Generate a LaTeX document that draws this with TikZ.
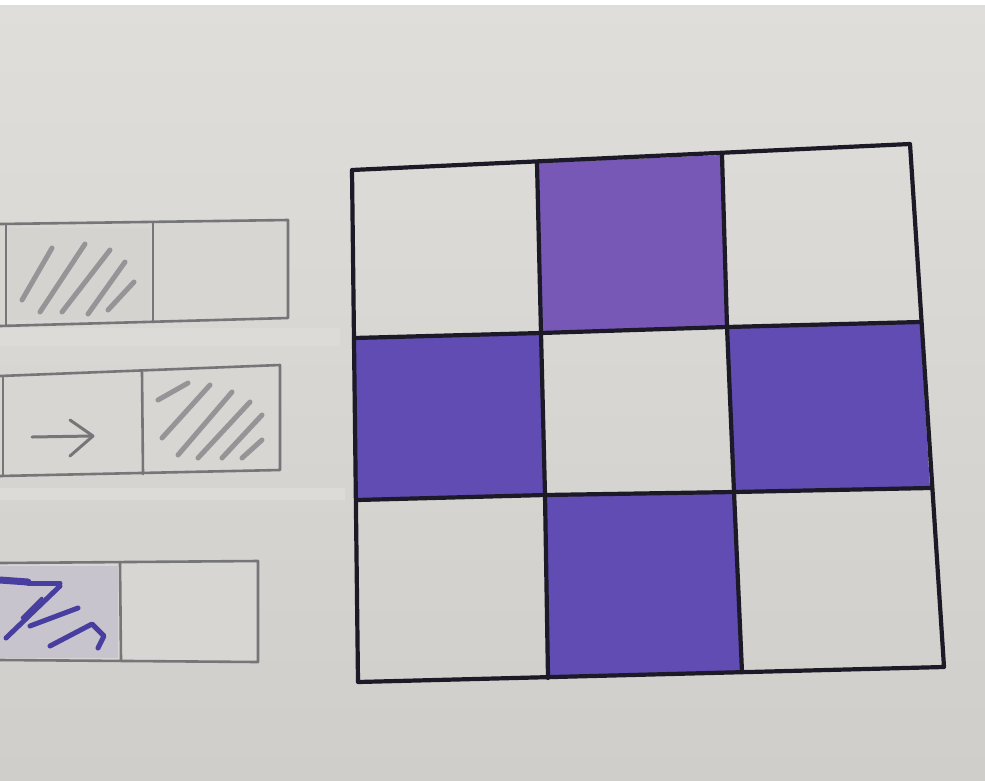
\documentclass[tikz,border=0pt]{standalone}
\begin{document}
\begin{tikzpicture}[x=1pt,y=-1pt,
  gridline/.style={draw=gridink,line width=4.2pt,line join=round,line cap=round},
  pencil/.style={draw=pencilink,line width=2.6pt,line join=round,line cap=round},
  hatch/.style={draw=hatchink,line width=5pt,line cap=round},
  bluehatch/.style={draw=blueink,line width=5pt,line cap=round,line join=round},
  cellfill/.style={fill=violetfill}]
\definecolor{paper}{RGB}{216,214,211}
\definecolor{paperlight}{RGB}{224,222,219}
\definecolor{paperdark}{RGB}{208,206,203}
\definecolor{gridink}{RGB}{28,26,38}
\definecolor{pencilink}{RGB}{118,118,120}
\definecolor{hatchink}{RGB}{150,148,150}
\definecolor{blueink}{RGB}{72,62,160}
\definecolor{violetfill}{RGB}{96,76,178}
\definecolor{violettop}{RGB}{120,88,182}
\useasboundingbox (0,0) rectangle (985,780);
% paper
\shade[top color=paperlight,bottom color=paperdark] (0,0) rectangle (985,780);
\fill[white] (0,0) rectangle (985,5);
% faint paper strips
\fill[paperlight!60!paper] (0,328) rectangle (340,346);
\fill[paperlight!60!paper] (0,488) rectangle (345,500);

% ---- left strips ----
% strip 1
\coordinate (a1) at (0,224); \coordinate (a2) at (288,220);
\coordinate (a3) at (288,318); \coordinate (a4) at (0,326);
\fill[paper] (a1) -- (a2) -- (a3) -- (a4) -- cycle;
\fill[paperdark!90!white] (8,228) rectangle (150,320);
\draw[hatch] (22,300) -- (52,248);
\draw[hatch] (40,312) -- (85,244);
\draw[hatch] (62,312) -- (110,250);
\draw[hatch] (88,314) -- (125,262);
\draw[hatch] (108,310) -- (134,282);
\draw[pencil] (a1) -- (a2) -- (a3) -- (a4);
\draw[pencil] (6,224) -- (6,325);
\draw[pencil] (153,222) -- (153,322);

% strip 2
\coordinate (b1) at (0,376); \coordinate (b2) at (280,365);
\coordinate (b3) at (280,470); \coordinate (b4) at (0,476);
\fill[paper] (b1) -- (b2) -- (b3) -- (b4) -- cycle;
\draw[hatch] (158,400) -- (188,383);
\draw[hatch] (162,438) -- (210,385);
\draw[hatch] (178,455) -- (232,392);
\draw[hatch] (198,458) -- (250,402);
\draw[hatch] (222,458) -- (262,415);
\draw[hatch] (242,458) -- (262,440);
\draw[pencil] (b1) -- (b2) -- (b3) -- (b4);
\draw[pencil] (3,376) -- (3,476);
\draw[pencil] (142,372) -- (143,474);
\draw[pencil,line width=3pt] (32,437) -- (92,436);
\draw[pencil,line width=3pt] (70,420) -- (93,436) -- (70,456);

% strip 3
\coordinate (c1) at (0,563); \coordinate (c2) at (258,561);
\coordinate (c3) at (258,662); \coordinate (c4) at (0,660);
\fill[paper] (c1) -- (c2) -- (c3) -- (c4) -- cycle;
\fill[blueink!12!paper] (0,566) rectangle (118,658);
\draw[bluehatch,line width=7pt] (0,580) -- (28,582);
\draw[bluehatch] (28,583) -- (60,583);
\draw[bluehatch] (6,638) -- (60,586);
\draw[bluehatch] (30,626) -- (78,608);
\draw[bluehatch] (50,646) -- (92,624) -- (104,636) -- (98,648);
\draw[bluehatch,line width=3pt] (22,618) -- (42,598);
\draw[pencil] (c1) -- (c2) -- (c3) -- (c4);
\draw[pencil] (120,562) -- (121,660);

% ---- 3x3 grid ----
\coordinate (p00) at (352,170); \coordinate (p10) at (537,163);
\coordinate (p20) at (722,155); \coordinate (p30) at (910,144);
\coordinate (p01) at (354,338); \coordinate (p11) at (541,333);
\coordinate (p21) at (727,327); \coordinate (p31) at (920,322);
\coordinate (p02) at (357,500); \coordinate (p12) at (545,495);
\coordinate (p22) at (734,492); \coordinate (p32) at (930,488);
\coordinate (p03) at (358,682); \coordinate (p13) at (548,678);
\coordinate (p23) at (742,672); \coordinate (p33) at (944,667);
% filled cells
\fill[violettop] (p10) -- (p20) -- (p21) -- (p11) -- cycle;
\fill[violetfill] (p01) -- (p11) -- (p12) -- (p02) -- cycle;
\fill[violetfill] (p21) -- (p31) -- (p32) -- (p22) -- cycle;
\fill[violetfill] (p12) -- (p22) -- (p23) -- (p13) -- cycle;
% lines
\draw[gridline] (p00) -- (p30) -- (p33) -- (p03) -- cycle;
\draw[gridline] (p10) -- (p11) -- (p12) -- (p13);
\draw[gridline] (p20) -- (p21) -- (p22) -- (p23);
\draw[gridline] (p01) -- (p11) -- (p21) -- (p31);
\draw[gridline] (p02) -- (p12) -- (p22) -- (p32);
\end{tikzpicture}
\end{document}
